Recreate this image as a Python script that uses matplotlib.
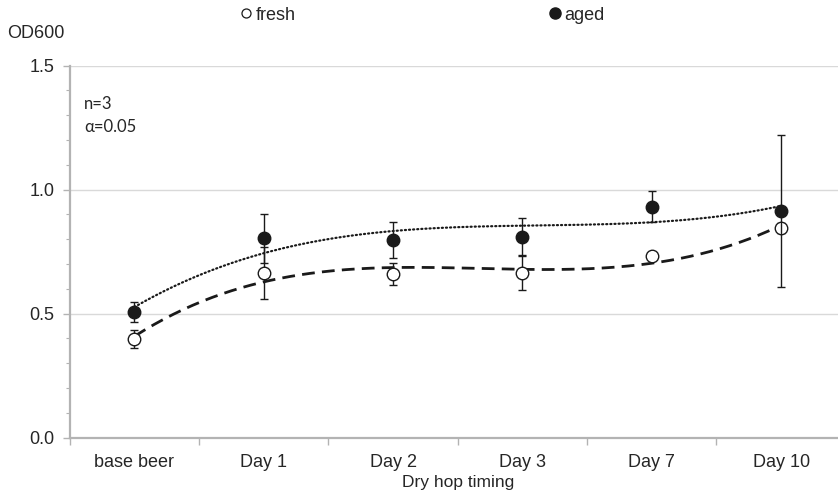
import matplotlib.pyplot as plt
from matplotlib.ticker import MultipleLocator
from matplotlib.lines import Line2D
import numpy as np

categories = ["base beer", "Day 1", "Day 2", "Day 3", "Day 7", "Day 10"]
fresh = [0.397, 0.662, 0.659, 0.662, 0.732, 0.846]
fresh_err = [0.035, 0.105, 0.046, 0.068, 0.010, 0.020]
aged = [0.506, 0.803, 0.795, 0.810, 0.931, 0.913]
aged_err = [0.041, 0.100, 0.072, 0.076, 0.064, 0.307]

plt.rcParams["font.family"] = ["Liberation Sans", "DejaVu Sans"]
TXT = "#262626"
AX = "#b3b3b3"
FS = 13

fig = plt.figure(figsize=(8.38, 4.97), dpi=100)
ax = fig.add_axes([0.0833, 0.1197, 0.926, 0.7485])

x = np.arange(1, len(categories) + 1)

# excel-style 3rd order polynomial trendlines
xs = np.linspace(1, len(categories), 200)
pf = np.polyfit(x, fresh, 3)
pa = np.polyfit(x, aged, 3)
ax.plot(xs, np.polyval(pf, xs), color="#1a1a1a", lw=2.0, ls=(0, (4.6, 2.6)), zorder=2)
ax.plot(xs, np.polyval(pa, xs), color="#1a1a1a", lw=1.6, ls=(0, (0.5, 1.35)),
        dash_capstyle="round", zorder=2)

ax.errorbar(x, fresh, yerr=fresh_err, fmt="o", ms=9, mfc="white", mec="#1a1a1a",
            mew=1.0, ecolor="#1a1a1a", elinewidth=1.0, capsize=2.8, capthick=1.0, zorder=3)
ax.errorbar(x, aged, yerr=aged_err, fmt="o", ms=9, mfc="#1a1a1a", mec="#1a1a1a",
            mew=1.0, ecolor="#1a1a1a", elinewidth=1.0, capsize=2.8, capthick=1.0, zorder=4)

ax.set_xlim(0.5, len(categories) + 0.5)
ax.set_ylim(0, 1.5)
ax.yaxis.set_major_locator(MultipleLocator(0.5))
ax.yaxis.set_minor_locator(MultipleLocator(0.1))
ax.yaxis.set_major_formatter(plt.FormatStrFormatter("%.1f"))
ax.grid(axis="y", which="major", color="#d9d9d9", lw=1.0, zorder=0)
ax.set_axisbelow(True)

ax.set_xticks(np.arange(0.5, len(categories) + 1, 1))
ax.set_xticklabels([])
ax.set_xticks(x, minor=True)
ax.set_xticklabels(categories, minor=True)
ax.tick_params(axis="x", which="minor", length=0, pad=12, labelsize=FS, labelcolor=TXT)
ax.tick_params(axis="x", which="major", length=5, width=1.0, color=AX)
ax.tick_params(axis="y", which="major", length=5, width=1.0, color=AX, labelsize=FS,
               labelcolor=TXT, pad=6)
ax.tick_params(axis="y", which="minor", length=3, width=0.8, color=AX)

for s in ["top", "right"]:
    ax.spines[s].set_visible(False)
for s in ["left", "bottom"]:
    ax.spines[s].set_color(AX)
    ax.spines[s].set_linewidth(1.6)

ax.set_xlabel("Dry hop timing", fontsize=FS - 0.5, color=TXT, labelpad=3)
fig.text(7 / 838, 1 - 33 / 497, "OD600", fontsize=FS, color=TXT, va="center", ha="left")

ax.text(14 / 776, 1 - 38 / 372, "n=3", transform=ax.transAxes, fontsize=12, color=TXT,
        family=["Lato", "DejaVu Sans"], va="center")
ax.text(14 / 776, 1 - 61 / 372, "\u03b1=0.05", transform=ax.transAxes, fontsize=12,
        color=TXT, family=["Lato", "DejaVu Sans"], va="center")

handles = [
    Line2D([], [], ls="none", marker="o", ms=6.5, mfc="white", mec="#1a1a1a", mew=0.9),
    Line2D([], [], ls="none", marker="o", ms=8, mfc="#1a1a1a", mec="#1a1a1a"),
]
fig.legend(handles, ["fresh", "aged"], ncol=2, loc="center left",
           bbox_to_anchor=(231 / 838, 1 - 15 / 497), frameon=False, fontsize=FS,
           handlelength=0.7, handletextpad=0.15, columnspacing=14.05, borderpad=0,
           labelcolor=TXT)

fig.savefig("out.png", dpi=100)
